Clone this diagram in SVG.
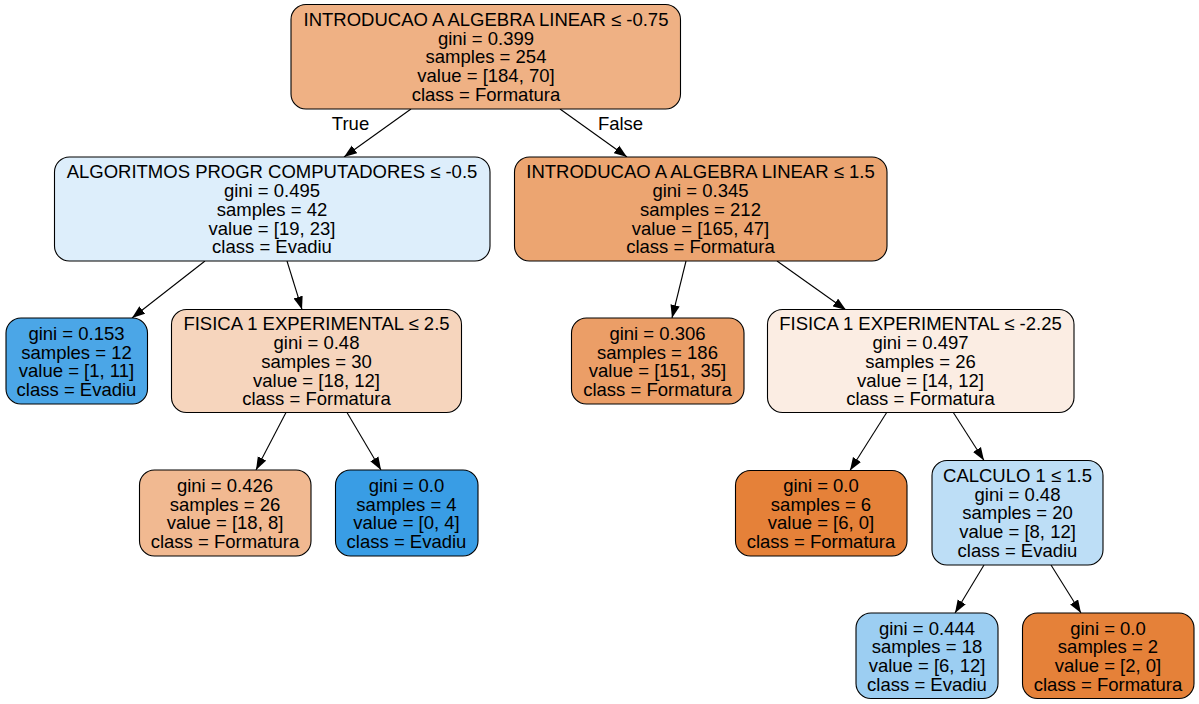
<svg xmlns="http://www.w3.org/2000/svg" width="1199" height="704" viewBox="0 0 1199 704">
<style>
.n rect{stroke:#000;stroke-width:1.1}
text{font-family:"Liberation Sans",Arial,Helvetica,sans-serif;font-size:18.5px;text-anchor:middle;fill:#000}
.e line{stroke:#000;stroke-width:1.1}
</style>
<defs>
<marker id="arr" markerWidth="14" markerHeight="10" refX="13" refY="5" orient="auto" markerUnits="userSpaceOnUse">
<path d="M0,0.3 L13,5 L0,9.7 z" fill="#000"/>
</marker>
</defs>
<rect width="1199" height="704" fill="#fff"/>
<g id="edges" class="e">
<line x1="411" y1="109" x2="344" y2="157" marker-end="url(#arr)"/>
<line x1="560" y1="109" x2="627" y2="157" marker-end="url(#arr)"/>
<line x1="205" y1="261" x2="132" y2="318" marker-end="url(#arr)"/>
<line x1="287" y1="261" x2="302" y2="309.5" marker-end="url(#arr)"/>
<line x1="686" y1="261" x2="672" y2="318" marker-end="url(#arr)"/>
<line x1="777" y1="261" x2="846" y2="310" marker-end="url(#arr)"/>
<line x1="286" y1="412.5" x2="256" y2="470" marker-end="url(#arr)"/>
<line x1="347" y1="412.5" x2="381" y2="470" marker-end="url(#arr)"/>
<line x1="887" y1="412" x2="850" y2="470.5" marker-end="url(#arr)"/>
<line x1="953" y1="412" x2="984" y2="460.5" marker-end="url(#arr)"/>
<line x1="984" y1="565" x2="955" y2="613" marker-end="url(#arr)"/>
<line x1="1051" y1="565" x2="1081" y2="613" marker-end="url(#arr)"/>
<text x="350.5" y="130">True</text>
<text x="620.5" y="130">False</text>
</g>
<g id="node0" class="n">
<rect x="291" y="4.5" width="389.5" height="104.5" rx="15" fill="#efb184"/>
<text x="486" y="26">INTRODUCAO A ALGEBRA LINEAR ≤ -0.75</text>
<text x="486" y="44.7">gini = 0.399</text>
<text x="486" y="63.4">samples = 254</text>
<text x="486" y="82.1">value = [184, 70]</text>
<text x="486" y="100.8">class = Formatura</text>
</g>
<g id="node1" class="n">
<rect x="54.5" y="157" width="435.5" height="104" rx="15" fill="#ddeefb"/>
<text x="272" y="178.4">ALGORITMOS PROGR COMPUTADORES ≤ -0.5</text>
<text x="272" y="197.1">gini = 0.495</text>
<text x="272" y="215.8">samples = 42</text>
<text x="272" y="234.5">value = [19, 23]</text>
<text x="272" y="253.2">class = Evadiu</text>
</g>
<g id="node2" class="n">
<rect x="514.5" y="157" width="372.5" height="104" rx="15" fill="#eca571"/>
<text x="700.5" y="178.4">INTRODUCAO A ALGEBRA LINEAR ≤ 1.5</text>
<text x="700.5" y="197.1">gini = 0.345</text>
<text x="700.5" y="215.8">samples = 212</text>
<text x="700.5" y="234.5">value = [165, 47]</text>
<text x="700.5" y="253.2">class = Formatura</text>
</g>
<g id="node3" class="n">
<rect x="6" y="318" width="141.5" height="86" rx="15" fill="#4ba6e7"/>
<text x="76.5" y="339.8">gini = 0.153</text>
<text x="76.5" y="358.5">samples = 12</text>
<text x="76.5" y="377.2">value = [1, 11]</text>
<text x="76.5" y="395.9">class = Evadiu</text>
</g>
<g id="node4" class="n">
<rect x="171.5" y="309.5" width="290" height="103" rx="15" fill="#f6d5bd"/>
<text x="316.5" y="330.4">FISICA 1 EXPERIMENTAL ≤ 2.5</text>
<text x="316.5" y="349.1">gini = 0.48</text>
<text x="316.5" y="367.8">samples = 30</text>
<text x="316.5" y="386.5">value = [18, 12]</text>
<text x="316.5" y="405.2">class = Formatura</text>
</g>
<g id="node5" class="n">
<rect x="139.5" y="470" width="171.5" height="86" rx="15" fill="#f1b991"/>
<text x="225" y="491.8">gini = 0.426</text>
<text x="225" y="510.5">samples = 26</text>
<text x="225" y="529.2">value = [18, 8]</text>
<text x="225" y="547.9">class = Formatura</text>
</g>
<g id="node6" class="n">
<rect x="335.5" y="470" width="142.5" height="86" rx="15" fill="#399de5"/>
<text x="406.5" y="491.8">gini = 0.0</text>
<text x="406.5" y="510.5">samples = 4</text>
<text x="406.5" y="529.2">value = [0, 4]</text>
<text x="406.5" y="547.9">class = Evadiu</text>
</g>
<g id="node7" class="n">
<rect x="571.5" y="318" width="172.5" height="86" rx="15" fill="#eb9e67"/>
<text x="657.5" y="339.8">gini = 0.306</text>
<text x="657.5" y="358.5">samples = 186</text>
<text x="657.5" y="377.2">value = [151, 35]</text>
<text x="657.5" y="395.9">class = Formatura</text>
</g>
<g id="node8" class="n">
<rect x="767.5" y="309.5" width="306.5" height="103" rx="15" fill="#fbede3"/>
<text x="920.5" y="330.4">FISICA 1 EXPERIMENTAL ≤ -2.25</text>
<text x="920.5" y="349.1">gini = 0.497</text>
<text x="920.5" y="367.8">samples = 26</text>
<text x="920.5" y="386.5">value = [14, 12]</text>
<text x="920.5" y="405.2">class = Formatura</text>
</g>
<g id="node9" class="n">
<rect x="735.5" y="470.5" width="171.5" height="85.5" rx="15" fill="#e58139"/>
<text x="821" y="492">gini = 0.0</text>
<text x="821" y="510.7">samples = 6</text>
<text x="821" y="529.4">value = [6, 0]</text>
<text x="821" y="548.1">class = Formatura</text>
</g>
<g id="node10" class="n">
<rect x="932" y="460.5" width="171" height="104.5" rx="15" fill="#bddef6"/>
<text x="1017.5" y="482">CALCULO 1 ≤ 1.5</text>
<text x="1017.5" y="500.7">gini = 0.48</text>
<text x="1017.5" y="519.4">samples = 20</text>
<text x="1017.5" y="538.1">value = [8, 12]</text>
<text x="1017.5" y="556.8">class = Evadiu</text>
</g>
<g id="node11" class="n">
<rect x="856" y="613" width="142" height="85.5" rx="15" fill="#9ccef2"/>
<text x="927" y="634.5">gini = 0.444</text>
<text x="927" y="653.2">samples = 18</text>
<text x="927" y="671.9">value = [6, 12]</text>
<text x="927" y="690.6">class = Evadiu</text>
</g>
<g id="node12" class="n">
<rect x="1022.5" y="613" width="171.5" height="85.5" rx="15" fill="#e58139"/>
<text x="1108" y="634.5">gini = 0.0</text>
<text x="1108" y="653.2">samples = 2</text>
<text x="1108" y="671.9">value = [2, 0]</text>
<text x="1108" y="690.6">class = Formatura</text>
</g>
</svg>
